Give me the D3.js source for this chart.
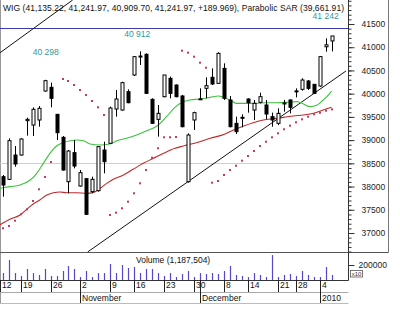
<!DOCTYPE html>
<html>
<head>
<meta charset="utf-8">
<script src="https://cdn.jsdelivr.net/npm/d3@7"></script>
<style>
  body { margin: 0; background: #fff; }
  svg { display: block; font-family: "Liberation Sans", Arial, sans-serif; }
</style>
</head>
<body>
<div id="chart"></div>
<script>
// WIG daily candles, index = trading day shown on the chart
const opens  = [38213,38155,38679,38679,39419,39325,39433,40057,40136,39555,39060,38105,38730,38012,38170,37890,37911,38787,38931,39670,39648,40043,40402,40790,40847,39878,39447,39935,40330,40186,39950,38105,39433,39875,40115,40352,40222,40545,39864,39361,39470,39885,39648,39813,39756,39505,39361,39790,39864,40050,40093,40273,40201,40165,41010,41135.22];
const highs  = [38249,39038,38873,39038,39483,39706,39734,40298,40237,39555,39088,38787,39002,38356,38170,38213,38873,38966,39720,40079,40258,40093,40811,40912,40868,39899,39756,40402,40366,40201,39971,39146,39612,40115,40352,40545,40890,40653,39950,39505,39555,39899,39864,40021,39864,39591,39684,39864,39878,40115,40330,40294,40201,40811,41191,41241.97];
const lows   = [37782,38141,38428,38665,39096,39088,39289,40043,39706,39002,38342,37854,38392,37997,37387,37854,37890,38285,38931,39505,39634,39792,40380,40617,39993,39347,39074,39921,39899,39921,39275,38084,39218,39864,39899,40186,40208,39864,39275,39131,39275,39591,39433,39792,39454,39289,39325,39612,39576,39921,40064,40079,39993,40151,40904,40909.70];
const closes = [38033,38988,38486,39024,39447,39663,39684,40280,39899,39160,38356,38765,38442,38299,37402,38155,38859,38536,39691,39885,40237,39806,40797,40810,40007,39361,39576,40402,40007,39935,39289,39110,39591,39890,40172,40208,40868,39899,39289,39182,39490,39806,39792,39935,39562,39433,39576,39800,39706,40060,40294,40115,40007,40797,41052,41241.97];
const volumes = [93,267,93,53,147,93,67,147,53,53,120,187,147,40,120,40,93,93,213,93,200,160,173,93,147,147,93,53,93,40,80,120,40,93,80,93,80,120,187,67,53,40,93,67,40,333,40,67,80,53,120,67,40,40,173,67].map(v => v * 1000);
// parabolic SAR, one dot per day (null = not visible)
const sar = [37101,37151,37265,37403,37510,37689,37941,38206,38529,null,40316,40273,40187,40079,39971,39842,39707,39541,37388,37437,37532,37674,37855,38070,38357,38621,38824,39061,39061,39067,40925,40882,40796,40667,40559,38083,38120,38249,38357,38449,38557,38658,38766,38873,38966,39061,39147,39233,39311,39384,39448,39504,39556,39590,39633,39661.91];
// moving averages: [day index, value]
const greenMA = [[-0.5,37962],[1.2,37998],[2.9,38033],[4.6,38141],[5.7,38285],[6.8,38500],[7.9,38715],[9,38873],[10.1,38945],[11.3,38988],[12.4,39002],[13.5,38988],[14.6,38916],[16.3,38895],[17.9,38916],[19.1,38988],[20.7,39038],[22.4,39110],[24.1,39203],[25.8,39304],[27.4,39505],[28.8,39706],[30.2,39828],[31.3,39864],[33,39885],[34.7,39921],[36.1,39950],[36.9,39921],[38,39864],[39.1,39792],[40.8,39792],[42.5,39792],[44.1,39806],[45.8,39806],[47.5,39813],[49.2,39828],[50.3,39777],[51.4,39720],[52.5,39749],[53.6,39864],[54.7,40007],[55,40057]];
const redMA = [[-0.5,37172],[1.2,37294],[2.9,37387],[4,37509],[5.1,37624],[6.2,37710],[7.4,37818],[8.5,37868],[9.6,37883],[10.7,37868],[12.4,37868],[14,37854],[15.2,37875],[16.3,37962],[17.4,38069],[18.5,38155],[20.2,38249],[21.8,38371],[23.5,38500],[25.2,38608],[26.9,38715],[28.8,38823],[30.2,38873],[32.4,38945],[34.7,39038],[37.2,39131],[38.6,39218],[40.3,39304],[41.9,39375],[43.6,39433],[45.3,39462],[47,39490],[48.6,39519],[50.3,39541],[52,39577],[53.6,39648],[55,39706]];
const trendLines = [[-0.5,40876,11.7,42017],[14.2,36591,57.4,40488]];
const resistance = 41414;
const baseLevel = 38500;
const peakLabels = [[7.2,40833,"40 298"],[22.5,41220,"40 912"],[54,41608,"41 242"]];
const dayTicks = [[-0.5,"12"],[3,"19"],[8,"26"],[13,"2"],[18,"9"],[22,"16"],[27,"23"],[32,"30"],[37,"8"],[41,"14"],[46,"21"],[49,"28"],[53,"4"]];
const monthTicks = [[13,"November"],[33,"December"],[53,"2010"]];
const header = "WIG (41,135.22, 41,241.97, 40,909.70, 41,241.97, +189.969), Parabolic SAR (39,661.91)";
const volumeTitle = "Volume (1,187,504)";

const W = 400, H = 310;
const plotRight = 348, priceBottom = 252, volBottom = 280;

const svg = d3.select("#chart").append("svg")
  .attr("width", W).attr("height", H);

const x = d3.scaleLinear().domain([0, 55]).range([2.7, 331.6]);
const y = d3.scaleLinear().domain([37000, 41500]).range([233, 24]);
const yVol = d3.scaleLinear().domain([0, 200000]).range([volBottom, 265]);
const px = i => Math.round(x(i)) + 0.5;

svg.append("clipPath").attr("id", "clip")
  .append("rect").attr("x", 0).attr("y", 0).attr("width", plotRight).attr("height", priceBottom);

// frame
svg.append("line").attr("x1", 0.5).attr("x2", 0.5).attr("y1", 0).attr("y2", 303).attr("stroke", "#999");
svg.append("line").attr("x1", 388.5).attr("x2", 388.5).attr("y1", 0).attr("y2", priceBottom + 0.5).attr("stroke", "#777");
svg.append("line").attr("x1", 0).attr("x2", 388.5).attr("y1", priceBottom + 0.5).attr("y2", priceBottom + 0.5).attr("stroke", "#555");

const plot = svg.append("g").attr("clip-path", "url(#clip)");

// reference levels
plot.append("line").attr("x1", 0).attr("x2", plotRight)
  .attr("y1", Math.round(y(baseLevel)) + 0.5).attr("y2", Math.round(y(baseLevel)) + 0.5)
  .attr("stroke", "#d0d0d0");
plot.append("line").attr("x1", 0).attr("x2", plotRight)
  .attr("y1", Math.round(y(resistance)) + 0.5).attr("y2", Math.round(y(resistance)) + 0.5)
  .attr("stroke", "#3a3ab8").attr("stroke-width", 1.2);

// trend lines
plot.selectAll("line.trend").data(trendLines).join("line").attr("class", "trend")
  .attr("x1", d => x(d[0])).attr("y1", d => y(d[1]))
  .attr("x2", d => x(d[2])).attr("y2", d => y(d[3]))
  .attr("stroke", "#111").attr("stroke-width", 1);

// moving averages
const maLine = d3.line().x(d => x(d[0])).y(d => y(d[1])).curve(d3.curveMonotoneX);
plot.append("path").datum(redMA).attr("d", maLine)
  .attr("fill", "none").attr("stroke", "#c02828").attr("stroke-width", 1.1);
plot.append("path").datum(greenMA).attr("d", maLine)
  .attr("fill", "none").attr("stroke", "#3cc23c").attr("stroke-width", 1.1);

// parabolic SAR
plot.selectAll("rect.sar").data(sar.map((v, i) => [i, v]).filter(d => d[1] != null))
  .join("rect").attr("class", "sar")
  .attr("x", d => px(d[0]) - 1.5).attr("y", d => y(d[1]) - 1)
  .attr("width", 2).attr("height", 2).attr("fill", "#c03a66");

// candles
const candles = plot.selectAll("g.candle").data(d3.range(opens.length))
  .join("g").attr("class", "candle");
candles.append("line")
  .attr("x1", i => px(i)).attr("x2", i => px(i))
  .attr("y1", i => y(highs[i])).attr("y2", i => y(lows[i]))
  .attr("stroke", "#000");
candles.append("rect")
  .attr("x", i => px(i) - 1.5)
  .attr("width", 3)
  .attr("y", i => y(Math.max(opens[i], closes[i])))
  .attr("height", i => Math.max(1, Math.abs(y(opens[i]) - y(closes[i]))))
  .attr("fill", i => closes[i] >= opens[i] ? "#fff" : "#000")
  .attr("stroke", "#000").attr("stroke-width", 1);

// peak labels
svg.selectAll("text.peak").data(peakLabels).join("text").attr("class", "peak")
  .attr("x", d => x(d[0])).attr("y", d => y(d[1]))
  .attr("text-anchor", "middle").attr("font-size", 8.5).attr("fill", "#2f9a9a")
  .attr("xml:space", "preserve")
  .text(d => d[2]);

// header
svg.append("text").attr("x", 3).attr("y", 10.5).attr("font-size", 8.5).attr("fill", "#111")
  .attr("textLength", 341).attr("lengthAdjust", "spacing").text(header);

// price axis
const axisX = plotRight + 0.5;
const minorAxis = d3.axisRight(y).tickValues(d3.range(36600, 42100, 100)).tickSize(3).tickFormat("");
const majorAxis = d3.axisRight(y).tickValues(d3.range(37000, 41501, 500)).tickSize(6).tickPadding(7).tickFormat(d3.format("d"));
const gMinor = svg.append("g").attr("transform", `translate(${axisX},0)`).call(minorAxis);
const gMajor = svg.append("g").attr("transform", `translate(${axisX},0)`).call(majorAxis);
[gMinor, gMajor].forEach(g => {
  g.select(".domain").remove();
  g.selectAll("line").attr("stroke", "#333");
  g.selectAll("text").attr("font-size", 8.5).attr("font-family", "Liberation Sans, Arial, sans-serif").attr("fill", "#222");
});
svg.append("line").attr("x1", axisX).attr("x2", axisX).attr("y1", 0).attr("y2", volBottom + 0.5).attr("stroke", "#333");

// volume panel
svg.append("g").selectAll("rect").data(volumes).join("rect")
  .attr("x", (d, i) => px(i) - 0.6).attr("width", 1.2)
  .attr("y", d => yVol(d)).attr("height", d => volBottom - yVol(d))
  .attr("fill", "#5548cc");
svg.append("text").attr("x", 136).attr("y", 262.5).attr("font-size", 8.5).attr("fill", "#111").text(volumeTitle);
const volAxis = d3.axisRight(yVol).tickValues([200000]).tickSize(6).tickPadding(4).tickFormat(d3.format("d"));
const gVol = svg.append("g").attr("transform", `translate(${axisX},0)`).call(volAxis);
gVol.select(".domain").remove();
gVol.selectAll("line").attr("stroke", "#333");
gVol.selectAll("text").attr("font-size", 8.5).attr("font-family", "Liberation Sans, Arial, sans-serif").attr("fill", "#222");
svg.append("rect").attr("x", 350.5).attr("y", 270.5).attr("width", 12).attr("height", 6.5)
  .attr("fill", "#fff").attr("stroke", "#555").attr("stroke-width", 0.8);
svg.append("text").attr("x", 356.5).attr("y", 276).attr("text-anchor", "middle").attr("font-size", 6).attr("fill", "#333").text("x10");

// date axis
svg.append("line").attr("x1", 0).attr("x2", axisX).attr("y1", volBottom + 0.5).attr("y2", volBottom + 0.5).attr("stroke", "#333");
svg.append("line").attr("x1", 0).attr("x2", axisX).attr("y1", 292.5).attr("y2", 292.5).attr("stroke", "#aaa");
svg.append("line").attr("x1", 0).attr("x2", axisX).attr("y1", 303.5).attr("y2", 303.5).attr("stroke", "#bbb");
const dt = svg.append("g").selectAll("g").data(dayTicks).join("g")
  .attr("transform", d => `translate(${Math.round(x(d[0])) + 0.5},0)`);
dt.append("line").attr("y1", volBottom).attr("y2", 292).attr("stroke", "#222");
dt.append("text").attr("x", 1.5).attr("y", 288).attr("font-size", 8.5).attr("fill", "#111").text(d => d[1]);
const mt = svg.append("g").selectAll("g").data(monthTicks).join("g")
  .attr("transform", d => `translate(${Math.round(x(d[0])) + 0.5},0)`);
mt.append("line").attr("y1", volBottom).attr("y2", 303).attr("stroke", "#222");
mt.append("text").attr("x", 1.5).attr("y", 300.5).attr("font-size", 8.5).attr("fill", "#111").text(d => d[1]);
</script>
</body>
</html>
